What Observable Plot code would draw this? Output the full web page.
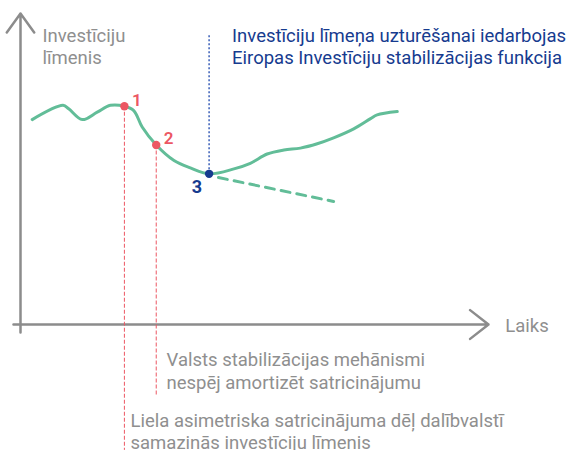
<!DOCTYPE html>
<html><head><meta charset="utf-8">
<script src="https://cdn.jsdelivr.net/npm/d3@7"></script>
<script src="https://cdn.jsdelivr.net/npm/@observablehq/plot@0.6"></script>
<style>
html,body{margin:0;padding:0;background:#fff;}
</style>
</head><body>
<div id="chart"></div>
<script>
// Conceptual investment level curve (time 0..100, level 0..100)
const curveT     = [2.5, 9.1, 10.3, 13.2, 16.4, 19.2, 22.2, 24.2, 26.0, 29.0, 32.8, 36.3, 40.3, 45.6, 49.1, 52.7, 56.3, 59.8, 63.4, 66.9, 71.2, 74.8, 76.2, 80.5];
const curveLevel = [66.1, 70.7, 69.6, 66.1, 68.5, 70.7, 70.4, 69.0, 63.7, 57.9, 52.9, 50.5, 48.6, 50.2, 52.0, 55.0, 56.3, 56.9, 58.3, 60.2, 63.1, 66.4, 67.6, 68.7];
// Path without stabilisation (dashed)
const forecastT     = [42.3, 66.9];
const forecastLevel = [47.4, 39.7];
// Events
const eventLabels = ["1", "2", "3"];
const eventT      = [22.2, 29.0, 40.3];
const eventLevel  = [70.4, 57.9, 48.6];
const eventLineEnd = [-40.6, -22.9, 93.2];
// Texts
const yAxisTitle = ["Investīciju", "līmenis"];
const xAxisTitle = "Laiks";
const blueNote = ["Investīciju līmeņa uzturēšanai iedarbojas", "Eiropas Investīciju stabilizācijas funkcija"];
const noteTwo = ["Valsts stabilizācijas mehānismi", "nespēj amortizēt satricinājumu"];
const noteOne = ["Liela asimetriska satricinājuma dēļ dalībvalstī", "samazinās investīciju līmenis"];

const GREEN = "#62bd98", RED = "#ec5763", BLUE = "#163b8f", BLUE_LINE = "#3a5fb8", GRAY = "#8c8c8c", TEXT_GRAY = "#8f8f8f";
const FONT = "'Liberation Sans Narrow', 'Roboto', sans-serif";
const FS = 18.5;

const curve = curveT.map((t, i) => ({t, v: curveLevel[i]}));
const forecast = forecastT.map((t, i) => ({t, v: forecastLevel[i]}));
const events = eventLabels.map((label, i) => ({label, t: eventT[i], v: eventLevel[i], end: eventLineEnd[i]}));

const lines = (arr, t, v0, step) => arr.map((s, i) => ({s, t, v: v0 - i * step}));

const chart = Plot.plot({
  width: 568,
  height: 450,
  marginTop: 14,
  marginRight: 80,
  marginBottom: 126,
  marginLeft: 20,
  x: {domain: [0, 100], axis: null},
  y: {domain: [0, 100], axis: null},
  style: {fontFamily: FONT, background: "#fff"},
  marks: [
    // axes
    Plot.arrow([{x1: 0, y1: -2.6, x2: 0, y2: 100.3}], {x1: "x1", y1: "y1", x2: "x2", y2: "y2", stroke: GRAY, strokeWidth: 2.5, headLength: 14, headAngle: 72, insetStart: 0, insetEnd: 0}),
    Plot.arrow([{x1: -1.5, y1: 0, x2: 100, y2: 0}], {x1: "x1", y1: "y1", x2: "x2", y2: "y2", stroke: GRAY, strokeWidth: 2.5, headLength: 14, headAngle: 76, insetStart: 0, insetEnd: 0}),
    // event vertical lines
    Plot.ruleX(events.filter(d => d.label !== "3"), {x: "t", y1: "v", y2: "end", stroke: RED, strokeWidth: 1, strokeDasharray: "4,2"}),
    Plot.ruleX(events.filter(d => d.label === "3"), {x: "t", y1: "v", y2: "end", stroke: BLUE_LINE, strokeWidth: 1.5, strokeDasharray: "2,2"}),
    // curves
    Plot.line(curve, {x: "t", y: "v", curve: "catmull-rom", stroke: GREEN, strokeWidth: 3}),
    Plot.line(forecast, {x: "t", y: "v", stroke: GREEN, strokeWidth: 3, strokeDasharray: "9,7"}),
    // event dots
    Plot.dot(events, {x: "t", y: "v", r: 4.2, fill: d => d.label === "3" ? BLUE : RED, stroke: "none"}),
    // event numbers
    Plot.text(events.filter(d => d.label !== "3"), {x: d => d.t + 1.6, y: d => d.v + 2.0, text: "label", fill: RED, fontSize: 17, fontWeight: 600, textAnchor: "start"}),
    Plot.text(events.filter(d => d.label === "3"), {x: d => d.t - 2.6, y: d => d.v - 4.2, text: "label", fill: BLUE, fontSize: 18, fontWeight: "bold"}),
    // texts
    Plot.text(lines(yAxisTitle, 4.7, 93.2, 7.4), {x: "t", y: "v", text: "s", fill: TEXT_GRAY, fontSize: FS, textAnchor: "start"}),
    Plot.text([{s: xAxisTitle, t: 103.6, v: -0.6}], {x: "t", y: "v", text: "s", fill: TEXT_GRAY, fontSize: FS, textAnchor: "start"}),
    Plot.text(lines(blueNote, 45.2, 93.2, 7.3), {x: "t", y: "v", text: "s", fill: BLUE, fontSize: FS, textAnchor: "start"}),
    Plot.text(lines(noteTwo, 31.2, -11.6, 7.4), {x: "t", y: "v", text: "s", fill: TEXT_GRAY, fontSize: FS, textAnchor: "start"}),
    Plot.text(lines(noteOne, 23.5, -31.0, 7.3), {x: "t", y: "v", text: "s", fill: TEXT_GRAY, fontSize: FS, textAnchor: "start"})
  ]
});
document.getElementById("chart").appendChild(chart);
</script>
</body></html>
